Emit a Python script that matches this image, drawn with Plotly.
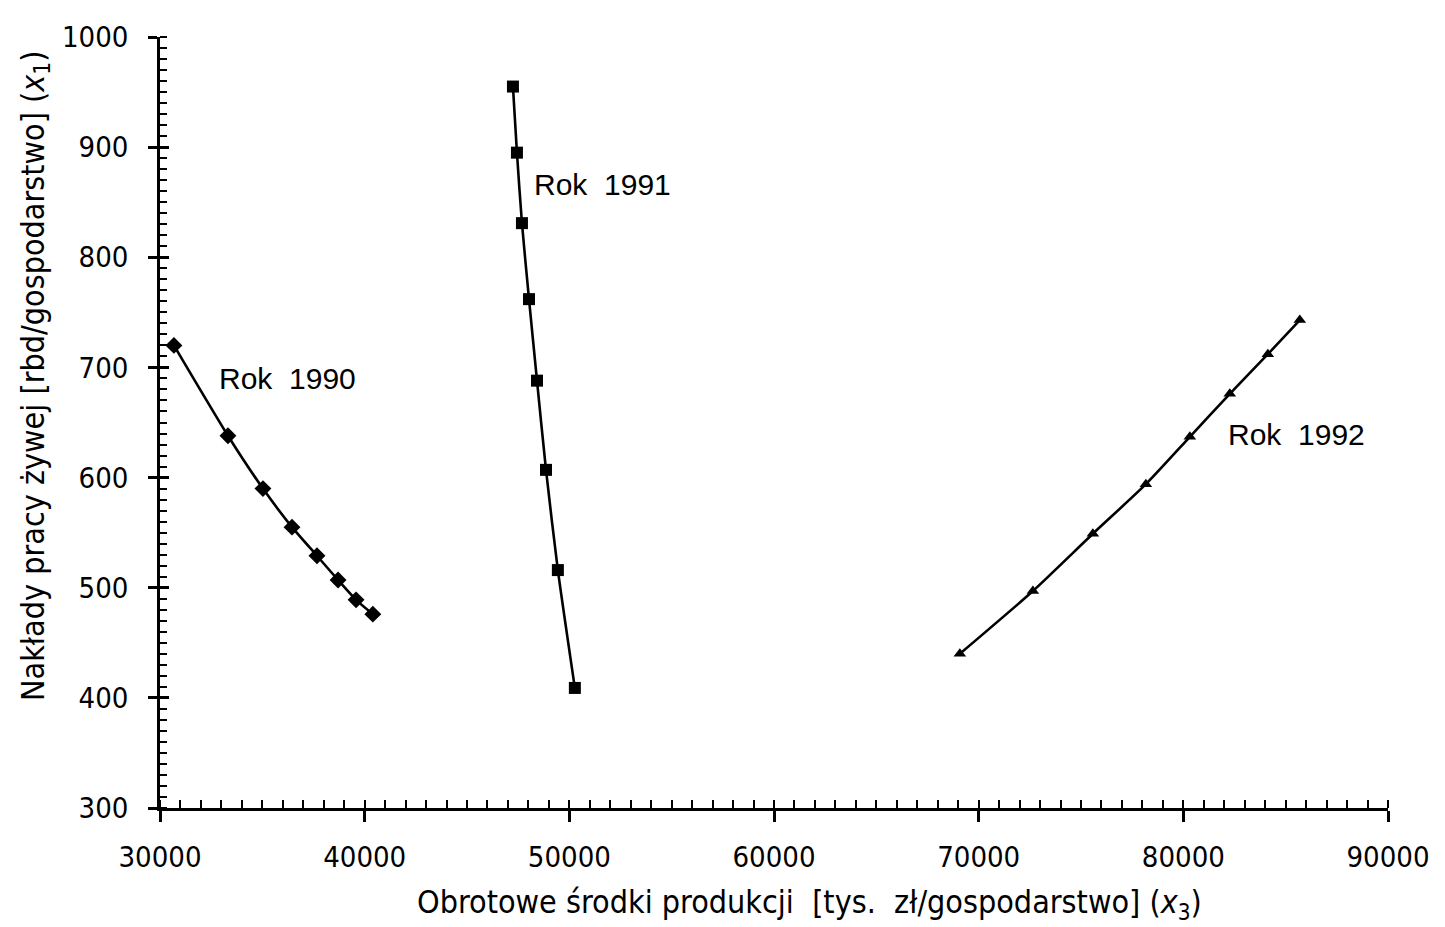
import plotly.graph_objects as go

# Data
x_1990 = [30680, 33320, 35030, 36450, 37670, 38700, 39580, 40400]
y_1990 = [720, 638, 590, 555, 529, 507, 489, 476]

x_1991 = [47245, 47440, 47685, 48030, 48420, 48860, 49440, 50270]
y_1991 = [955, 895, 831, 762, 688, 607, 516, 409]

x_1992 = [69080, 72650, 75580, 78170, 80320, 82270, 84130, 85690]
y_1992 = [440, 497, 549, 594, 637, 676, 712, 743]

labels = ["Rok&nbsp;&nbsp;1990", "Rok&nbsp;&nbsp;1991", "Rok&nbsp;&nbsp;1992"]
label_x = [36250, 51640, 85545]
label_y = [690, 866, 639]

x_ticks = [30000, 40000, 50000, 60000, 70000, 80000, 90000]
y_ticks = [300, 400, 500, 600, 700, 800, 900, 1000]

NARROW = "DejaVu Sans Condensed, Liberation Sans Narrow, sans-serif"
SANS = "Liberation Sans, Arial, sans-serif"

fig = go.Figure()
series = [
    (x_1990, y_1990, "diamond", 13),
    (x_1991, y_1991, "square", 12),
    (x_1992, y_1992, "triangle-up", 11),
]
for xs, ys, sym, sz in series:
    fig.add_trace(go.Scatter(
        x=xs, y=ys, mode="lines+markers",
        line=dict(color="black", width=2.6, shape="spline", smoothing=0.6),
        marker=dict(symbol=sym, size=sz, color="black"),
        showlegend=False, hoverinfo="skip",
    ))

# invisible trace to anchor an overlay y-axis (inner half of major ticks)
fig.add_trace(go.Scatter(x=[30000], y=[300], yaxis="y2", mode="markers",
                         marker=dict(opacity=0), showlegend=False, hoverinfo="skip"))

for t, lx, ly in zip(labels, label_x, label_y):
    fig.add_annotation(x=lx, y=ly, text=t, showarrow=False,
                       font=dict(family=SANS, size=30, color="black"),
                       xanchor="center", yanchor="middle")

fig.add_annotation(
    xref="paper", yref="paper", x=0.529, y=-0.124,
    text="Obrotowe środki produkcji&nbsp;&nbsp;[tys.&nbsp;&nbsp;zł/gospodarstwo] (<i>x</i><sub>3</sub>)",
    showarrow=False, font=dict(family=NARROW, size=32, color="black"),
    xanchor="center", yanchor="middle")
fig.add_annotation(
    xref="paper", yref="paper", x=-0.102, y=0.56,
    text="Nakłady pracy żywej [rbd/gospodarstwo] (<i>x</i><sub>1</sub>)",
    textangle=-90,
    showarrow=False, font=dict(family=NARROW, size=32, color="black"),
    xanchor="center", yanchor="middle")

fig.update_layout(
    width=1437, height=919,
    margin=dict(l=152, r=57, t=19, b=119),
    paper_bgcolor="white", plot_bgcolor="white",
    xaxis=dict(
        range=[30000, 90000], tickvals=x_ticks, ticktext=[str(v) for v in x_ticks],
        showgrid=False, zeroline=False,
        showline=True, linecolor="black", linewidth=2.6,
        ticks="outside", ticklen=11, tickwidth=2.6, tickcolor="black",
        ticklabelstandoff=10,
        tickfont=dict(family=NARROW, size=29, color="black"),
        minor=dict(dtick=1000, tick0=30000, ticks="inside", ticklen=8,
                   tickwidth=2.4, tickcolor="black", showgrid=False),
    ),
    yaxis=dict(
        range=[300, 1000], tickvals=y_ticks, ticktext=[str(v) for v in y_ticks],
        showgrid=False, zeroline=False,
        showline=True, linecolor="black", linewidth=2.6,
        ticks="outside", ticklen=9, tickwidth=2.6, tickcolor="black",
        ticklabelstandoff=14,
        tickfont=dict(family=NARROW, size=29, color="black"),
        minor=dict(dtick=10, tick0=300, ticks="inside", ticklen=7,
                   tickwidth=2.2, tickcolor="black", showgrid=False),
    ),
    yaxis2=dict(
        overlaying="y", side="left", range=[300, 1000], tickvals=y_ticks,
        showticklabels=False, showgrid=False, zeroline=False, showline=False,
        ticks="inside", ticklen=9, tickwidth=2.6, tickcolor="black",
    ),
)

fig.write_html("out.html")
